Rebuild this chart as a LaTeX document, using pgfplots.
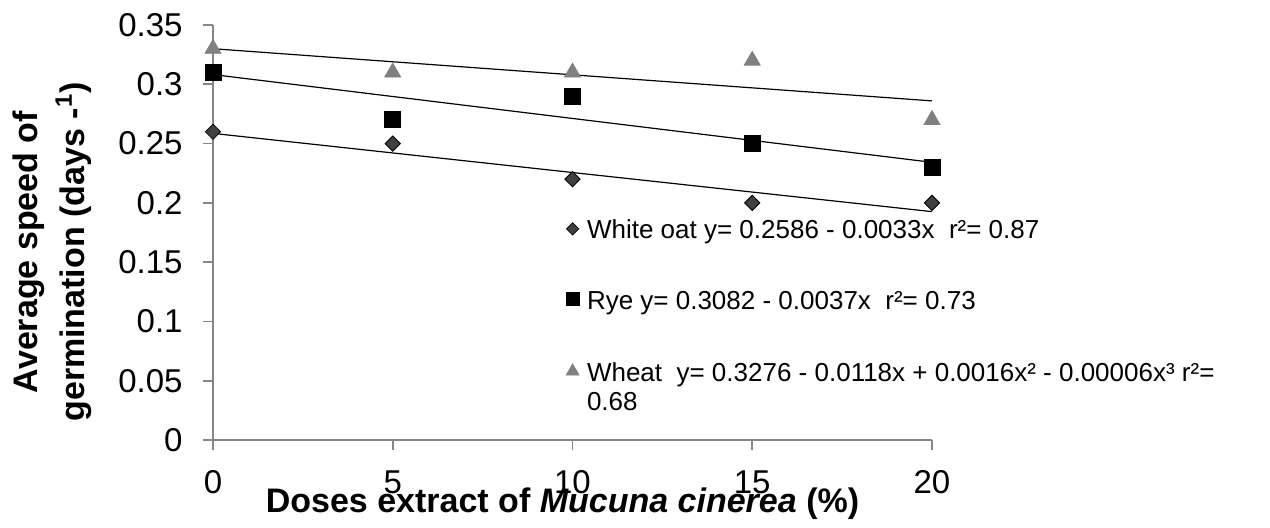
\documentclass[border=0pt]{standalone}
\usepackage{pgfplots}
\pgfplotsset{compat=1.18}
\usepackage{fontspec}
\setmainfont{Liberation Sans}
\definecolor{axgray}{HTML}{868686}
\definecolor{oat}{HTML}{404040}
\definecolor{wheatc}{HTML}{808080}
\begin{document}
\begin{tikzpicture}
\begin{axis}[
  at={(0pt,0pt)}, anchor=south west,
  scale only axis, width=359.5pt, height=207.5pt,
  xmin=0, xmax=20, ymin=0, ymax=0.35,
  axis x line*=bottom, axis y line*=left,
  axis line style={axgray, line width=0.8pt},
  xtick={0,5,10,15,20},
  ytick={0,0.05,0.1,0.15,0.2,0.25,0.3,0.35},
  tick style={axgray, line width=0.8pt},
  tick align=outside, major tick length=5pt,
  /pgf/number format/assume math mode=true,
  /pgf/number format/fixed,
  /pgf/number format/precision=2,
  ticklabel style={font=\fontsize{16.5}{16.5}\selectfont},
  yticklabel style={anchor=east, inner sep=0pt, xshift=-10pt},
  xticklabel style={anchor=north, inner sep=0pt, yshift=-10pt},
  xlabel={Doses extract of \textit{Mucuna cinerea} (\%)},
  xlabel style={at={(axis description cs:0.5,0)}, anchor=base, yshift=-36pt, xshift=-5pt, inner sep=0pt, font=\bfseries\fontsize{17}{17}\selectfont},
  ylabel={\begin{tabular}{@{}c@{}}Average speed of\\germination (days -\textsuperscript{1})\end{tabular}},
  ylabel style={at={(axis description cs:-0.1586,0.453)}, anchor=south, inner sep=0pt, font=\bfseries\fontsize{17}{23.5}\selectfont},
  legend style={at={(0.4896,0.530)}, anchor=north west, draw=none, fill=none, inner sep=0pt, outer sep=0pt, row sep=24.5pt, cells={anchor=base west}, nodes={inner xsep=3pt, inner ysep=0pt, font=\fontsize{13}{14.5}\selectfont}},
  legend image code/.code={\path[draw=none,fill=none] (0pt,0pt) (8pt,0pt); \draw[#1] plot coordinates {(3.8pt,5pt)};},
  legend image post style={every mark/.append style={scale=0.8}},
]
\addplot[only marks, mark=square*, mark size=2.7pt, mark options={rotate=45, fill=oat, draw=black, line width=0.4pt}] coordinates {(0,0.26)(5,0.25)(10,0.22)(15,0.20)(20,0.20)};
\addlegendentry{White oat y= 0.2586 - 0.0033x\ \ r²= 0.87}
\addplot[only marks, mark=square*, mark size=4pt, black] coordinates {(0,0.31)(5,0.27)(10,0.29)(15,0.25)(20,0.23)};
\addlegendentry{Rye y= 0.3082 - 0.0037x\ \ r²= 0.73}
\addplot[only marks, mark=triangle*, mark size=4.6pt, color=wheatc] coordinates {(0,0.33)(5,0.31)(10,0.31)(15,0.32)(20,0.27)};
\addlegendentry{\begin{tabular}[t]{@{}l@{}}Wheat\ \ y= 0.3276 - 0.0118x + 0.0016x² - 0.00006x³ r²=\\0.68\end{tabular}}
\addplot[black, line width=0.6pt, forget plot] coordinates {(0,0.2586)(20,0.1926)};
\addplot[black, line width=0.6pt, forget plot] coordinates {(0,0.3082)(20,0.2342)};
\addplot[black, line width=0.6pt, forget plot] coordinates {(0,0.3300)(20,0.2860)};
\end{axis}
\pgfresetboundingbox
\useasboundingbox (-106.5pt,-43.5pt) rectangle (528.5pt,220pt);
\end{tikzpicture}
\end{document}
